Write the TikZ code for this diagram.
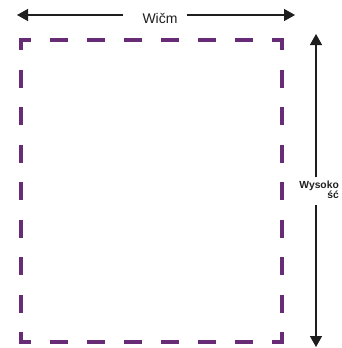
\documentclass[tikz,border=0pt]{standalone}
\usepackage{fontspec}
\setmainfont{Liberation Sans}
\usetikzlibrary{arrows.meta}
\definecolor{dashpurple}{RGB}{104,44,118}
\definecolor{arrowgray}{RGB}{30,30,30}
\tikzset{
  arr/.style={draw=arrowgray, line width=1.4pt, -{Triangle[length=11pt,width=12pt]}},
  frameline/.style={draw=dashpurple, line width=4.5pt, line join=miter},
  widthlabel/.style={font=\fontsize{14}{16}\selectfont, inner sep=0pt, text=arrowgray},
  heightlabel/.style={font=\bfseries\fontsize{10.3}{10}\selectfont, align=right, inner sep=0pt, text=arrowgray}
}
\begin{document}
\begin{tikzpicture}[x=1pt,y=-1pt]
\useasboundingbox (0,0) rectangle (342,348);
% frame corners
\draw[frameline] (21,50) -- (21,40) -- (31,40);
\draw[frameline] (272,40) -- (282,40) -- (282,50);
\draw[frameline] (21,332) -- (21,342) -- (31,342);
\draw[frameline] (272,342) -- (282,342) -- (282,332);
% horizontal dashes
\foreach \i in {0,...,5} {
  \draw[frameline] ({50+\i*37},40) -- ({68+\i*37},40);
  \draw[frameline] ({50+\i*37},342) -- ({68+\i*37},342);
}
% vertical dashes
\foreach \i in {0,...,6} {
  \draw[frameline] (21,{69.5+\i*37.5}) -- (21,{87.5+\i*37.5});
  \draw[frameline] (282,{69.5+\i*37.5}) -- (282,{87.5+\i*37.5});
}
% width arrow
\coordinate (tl) at (17,15);
\coordinate (tr) at (295,15);
\coordinate (gl) at (123,15);
\coordinate (gr) at (187,15);
\node[widthlabel] (w) at (160,18) {Wičm};
\draw[arr] (gl) -- (tl);
\draw[arr] (gr) -- (tr);
% height arrow
\coordinate (vt) at (316,34);
\coordinate (vb) at (316,347);
\coordinate (gt) at (316,177);
\coordinate (gb) at (316,205);
\node[heightlabel, anchor=north east] (h) at (339,180.5) {Wysoko\\ść};
\draw[arr] (gt) -- (vt);
\draw[arr] (gb) -- (vb);
\end{tikzpicture}
\end{document}
